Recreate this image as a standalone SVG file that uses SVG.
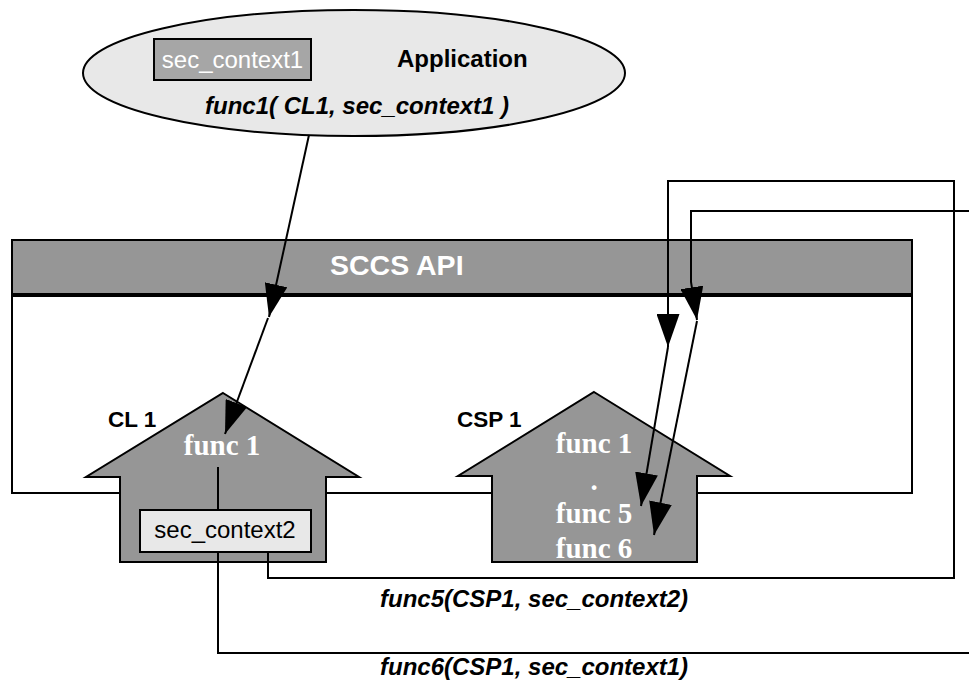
<svg xmlns="http://www.w3.org/2000/svg" width="969" height="681" viewBox="0 0 969 681">
<style>
.ln{fill:none;stroke:#000;stroke-width:2}
.gray{fill:#969696;stroke:#000;stroke-width:2}
.sans{font-family:"Liberation Sans",Arial,sans-serif}
.serif{font-family:"Liberation Serif","Times New Roman",serif;font-weight:bold;fill:#fff;font-size:29px}
.lbl{font-family:"Liberation Sans",Arial,sans-serif;font-weight:bold;font-size:22.5px;fill:#000}
.it{font-family:"Liberation Sans",Arial,sans-serif;font-weight:bold;font-style:italic;font-size:24px;fill:#000}
</style>
<defs>
<marker id="ah" viewBox="0 0 33 23" refX="33" refY="11.5" markerWidth="33" markerHeight="23" markerUnits="userSpaceOnUse" orient="auto">
<path d="M0,0 L33,11.5 L0,23 Z" fill="#000"/>
</marker>
</defs>
<rect width="969" height="681" fill="#fff"/>

<g id="sccs-api">
<rect x="12" y="295" width="900" height="198" fill="#fff" stroke="#000" stroke-width="2"/>
<rect x="12" y="240" width="900" height="55" class="gray"/>
<line x1="12" y1="295" x2="912" y2="295" stroke="#000" stroke-width="4"/>
<text x="330" y="275" class="sans" font-weight="bold" font-size="28.5" fill="#fff">SCCS API</text>
</g>

<g id="application">
<ellipse cx="354" cy="73" rx="271" ry="63" fill="#e8e8e8" stroke="#000" stroke-width="2"/>
<rect x="154" y="39" width="157" height="41" fill="#a6a6a6" stroke="#000" stroke-width="2"/>
<text x="232.5" y="68" text-anchor="middle" class="sans" font-size="24" fill="#fff">sec_context1</text>
<text x="397" y="67" class="sans" font-weight="bold" font-size="24" fill="#000">Application</text>
<text x="205" y="114" class="it">func1( CL1, sec_context1 )</text>
</g>

<g id="cl1">
<polygon points="223,393 359,477 326,477 326,562 120,562 120,477 86,477" class="gray"/>
<text x="108" y="427" class="lbl">CL 1</text>
<text x="222" y="455" text-anchor="middle" class="serif">func 1</text>
<line x1="218" y1="467" x2="218" y2="510" class="ln"/>
<rect x="140" y="510" width="171" height="42" fill="#e8e8e8" stroke="#000" stroke-width="2"/>
<text x="225" y="538" text-anchor="middle" class="sans" font-size="24" fill="#000">sec_context2</text>
</g>

<g id="csp1">
<polygon points="594,392 730,476 697,476 697,562 492,562 492,476 458,476" class="gray"/>
<text x="457" y="427" class="lbl">CSP 1</text>
<text x="594" y="453" text-anchor="middle" class="serif">func 1</text>
<text x="594" y="490" text-anchor="middle" class="serif">.</text>
<text x="594" y="523" text-anchor="middle" class="serif">func 5</text>
<text x="594" y="558" text-anchor="middle" class="serif">func 6</text>
</g>

<g id="connectors">
<line x1="309" y1="135" x2="269" y2="317" class="ln" marker-end="url(#ah)"/>
<line x1="268" y1="318" x2="225" y2="434" class="ln" marker-end="url(#ah)"/>
<polyline points="268,552 268,578 954,578 954,181 668,181 668,347" class="ln" marker-end="url(#ah)"/>
<line x1="668" y1="347" x2="641" y2="506" class="ln" marker-end="url(#ah)"/>
<polyline points="218,552 218,653 969,653" class="ln"/>
<polyline points="969,211 691,211 691,282 697,320" class="ln" marker-end="url(#ah)"/>
<line x1="697" y1="321" x2="654" y2="535" class="ln" marker-end="url(#ah)"/>
<text x="380" y="607" class="it">func5(CSP1, sec_context2)</text>
<text x="380" y="675" class="it">func6(CSP1, sec_context1)</text>
</g>
</svg>
